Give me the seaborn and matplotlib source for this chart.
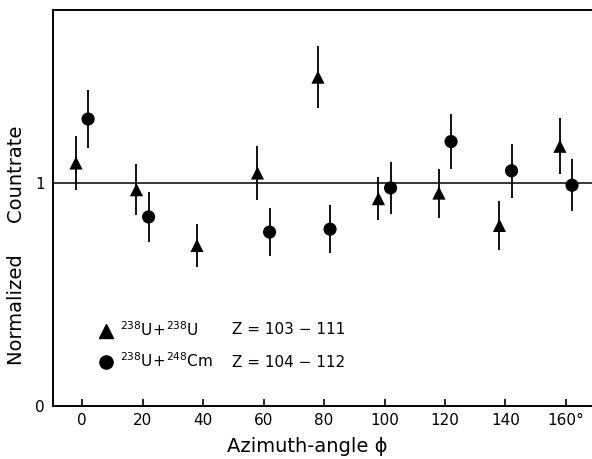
import numpy as np
import pandas as pd
import seaborn as sns
import matplotlib.pyplot as plt
from matplotlib import font_manager
from matplotlib.lines import Line2D

# values
angle_uu = [-2, 18, 38, 58, 78, 98, 118, 138, 158]
rate_uu = [1.09, 0.97, 0.72, 1.045, 1.475, 0.93, 0.955, 0.81, 1.165]
err_uu = [0.12, 0.115, 0.095, 0.12, 0.14, 0.095, 0.11, 0.11, 0.125]

angle_ucm = [2, 22, 62, 82, 102, 122, 142, 162]
rate_ucm = [1.287, 0.848, 0.78, 0.793, 0.978, 1.186, 1.055, 0.99]
err_ucm = [0.13, 0.112, 0.108, 0.108, 0.117, 0.125, 0.12, 0.117]

x_ticks = [0, 20, 40, 60, 80, 100, 120, 140, 160]
x_tick_labels = ["0", "20", "40", "60", "80", "100", "120", "140", "160°"]
y_ticks = [0, 1]
y_tick_labels = ["0", "1"]

series_labels = [r"$\mathregular{^{238}U\!+\!^{238}U}$", r"$\mathregular{^{238}U\!+\!^{248}Cm}$"]
z_ranges = ["Z = 103 − 111", "Z = 104 − 112"]

df = pd.concat([
    pd.DataFrame({"angle": angle_uu, "rate": rate_uu, "err": err_uu, "system": "UU"}),
    pd.DataFrame({"angle": angle_ucm, "rate": rate_ucm, "err": err_ucm, "system": "UCm"}),
])

sns.set_theme(style="ticks")
names = {f.name for f in font_manager.fontManager.ttflist}
if "Liberation Sans Narrow" in names:
    fam, fs_tick, fs_lab, fs_leg = "Liberation Sans Narrow", 13, 15, 13
else:
    fam, fs_tick, fs_lab, fs_leg = "DejaVu Sans", 11, 14, 11
plt.rcParams["font.family"] = [fam, "DejaVu Sans"]
plt.rcParams["mathtext.fontset"] = "custom"
plt.rcParams["mathtext.rm"] = fam
plt.rcParams["text.color"] = "black"
plt.rcParams["axes.labelcolor"] = "black"
plt.rcParams["xtick.color"] = "black"
plt.rcParams["ytick.color"] = "black"

fig = plt.figure(figsize=(5.92, 4.59), dpi=100)
ax = fig.add_axes([53 / 592, 53 / 459, 539 / 592, 396 / 459])

ax.axhline(1, color="black", lw=1.1, zorder=1)

for sysname in ["UU", "UCm"]:
    d = df[df.system == sysname]
    ax.errorbar(d.angle, d.rate, yerr=d.err, fmt="none", ecolor="black",
                elinewidth=1.3, capsize=0, zorder=2)

sns.scatterplot(data=df, x="angle", y="rate", style="system",
                markers={"UU": "^", "UCm": "o"}, color="black", s=90,
                edgecolor="black", linewidth=0, legend=False, ax=ax, zorder=3)

ax.set_xlim(-9.6, 168.6)
ax.set_ylim(0, 1.776)
ax.set_xticks(x_ticks)
ax.set_xticklabels(x_tick_labels, fontsize=fs_tick)
ax.set_yticks(y_ticks)
ax.set_yticklabels(y_tick_labels, fontsize=fs_tick)
ax.tick_params(axis="x", direction="in", length=5, width=1.2, pad=5, colors="black")
ax.tick_params(axis="y", length=0, pad=6, colors="black")

for side in ["left", "top", "bottom"]:
    ax.spines[side].set_linewidth(1.4)
    ax.spines[side].set_color("black")
ax.spines["right"].set_visible(False)

ax.set_xlabel("Azimuth-angle ϕ", fontsize=fs_lab, color="black")
ax.xaxis.set_label_coords(0.471, -0.078)
ax.set_ylabel("Normalized     Countrate", fontsize=fs_lab, color="black")
ax.yaxis.set_label_coords(-0.05, 0.405)

handles = [
    Line2D([], [], marker="^", color="black", ls="none", markersize=9.5),
    Line2D([], [], marker="o", color="black", ls="none", markersize=9.5),
]
leg = ax.legend(handles, series_labels, loc="center left", bbox_to_anchor=(0.085, 0.153),
                frameon=False, fontsize=fs_leg, handlelength=1.0, handletextpad=0.4,
                borderpad=0, borderaxespad=0, labelspacing=0.78)
for t in leg.get_texts():
    t.set_color("black")
for i, z in enumerate(z_ranges):
    ax.text(0.332, [0.194, 0.111][i], z, transform=ax.transAxes,
            fontsize=fs_leg, va="center", ha="left", color="black")

fig.savefig("out.png", dpi=100)
